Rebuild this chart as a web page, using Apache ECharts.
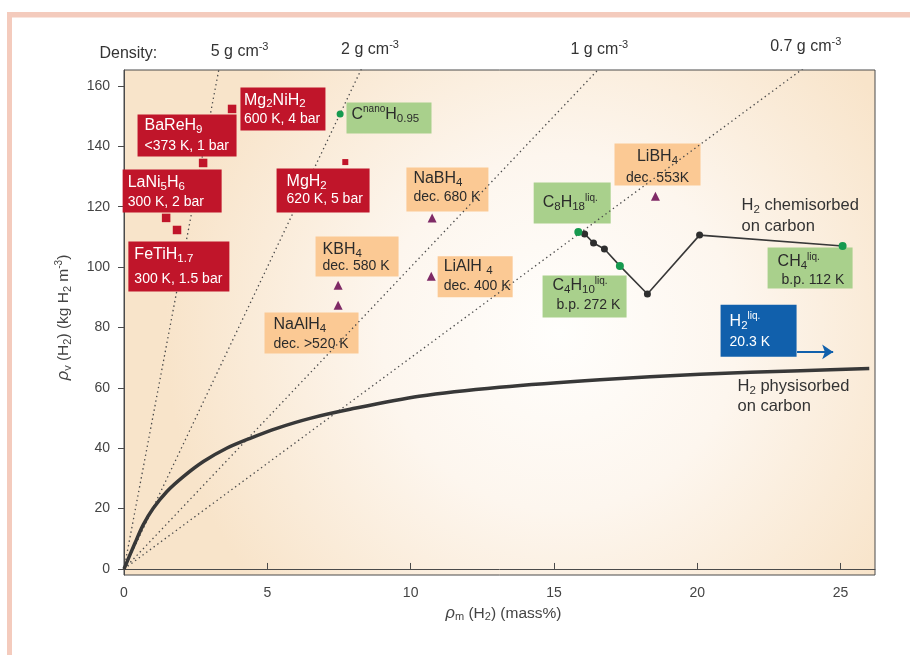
<!DOCTYPE html>
<html>
<head>
<meta charset="utf-8">
<script src="https://cdn.jsdelivr.net/npm/echarts@6/dist/echarts.min.js"></script>
<style>
  html, body { margin: 0; padding: 0; background: #ffffff; }
  #chart { width: 910px; height: 655px; }
</style>
</head>
<body>
<div id="chart"></div>
<script>
// ---- Values: x = gravimetric density (mass% H2), y = volumetric density (kg H2 m^-3) ----
const xTicks = [0, 5, 10, 15, 20, 25];
const yTicks = [0, 20, 40, 60, 80, 100, 120, 140, 160];

// Constant-density reference lines (g cm^-3); each runs from the origin past the top of the plot
const densityNames = ['5', '2', '1', '0.7'];
const densityEnds = [[3.4, 170], [8.5, 170], [17.0, 170], [24.3, 170]];

// H2 physisorbed on carbon
const physisorbed = [
  [0, 0], [0.38, 8.5], [0.67, 14.6], [1.02, 20.1], [1.49, 25.6], [2.07, 30.6],
  [2.77, 35.6], [3.58, 40.0], [4.40, 43.3], [5.33, 46.6], [6.49, 49.9], [7.89, 52.9],
  [10.3, 57.2], [13.1, 60.2], [16.6, 62.7], [20.1, 64.5], [23.6, 65.7], [26.0, 66.4]
];

// Metal hydrides (red squares)
const metalHydrideNames = ['BaReH9', 'Mg2NiH2', 'LaNi5H6', 'FeTiH1.7', 'MgH2'];
const metalHydrides = [[2.76, 134.5], [3.77, 152.4], [1.47, 116.3], [1.85, 112.3], [7.72, 134.8]];

// Complex hydrides (purple triangles)
const complexHydrideNames = ['NaBH4', 'KBH4', 'NaAlH4', 'LiAlH4', 'LiBH4'];
const complexHydrides = [[10.75, 116.3], [7.47, 94.0], [7.47, 87.4], [10.72, 97.0], [18.54, 123.5]];

// Carbon and liquid hydrocarbons (green dots)
const carbonNames = ['CnanoH0.95', 'C8H18 liq.', 'C4H10 liq.', 'CH4 liq.'];
const carbonPoints = [[7.54, 150.7], [15.85, 111.6], [17.3, 100.4], [25.07, 107.0]];

// H2 chemisorbed on carbon (black dots)
const chemisorbed = [[16.07, 111.0], [16.38, 108.0], [16.76, 106.0], [18.26, 91.1], [20.08, 110.6]];

// Liquid hydrogen lies off the scale: arrow pointing right
const liquidH2Arrow = [[23.48, 71.9], [24.74, 71.9]];

// ---- Styling ----
const FONT = '"Liberation Sans", Arial, Helvetica, sans-serif';
const RED = '#c0152a', ORANGE = '#fbc994', GREEN_BOX = '#a9d08c', BLUE = '#1160ac';
const INK = '#2b2b2b';
const boxFill = { red: RED, orange: ORANGE, green: GREEN_BOX, blue: BLUE };
const boxInk = { red: '#ffffff', orange: INK, green: INK, blue: '#ffffff', plain: '#333333', dens: '#333333' };

function richFor(kind, lh2) {
  const c = boxInk[kind];
  return {
    a: { fontSize: 16, lineHeight: 20, color: c, fontFamily: FONT },
    s: { fontSize: 11.5, lineHeight: 10, verticalAlign: 'bottom', color: c, fontFamily: FONT },
    p: { fontSize: 10, lineHeight: 10, verticalAlign: 'top', color: c, fontFamily: FONT },
    b: { fontSize: 14, lineHeight: lh2 || 20, color: c, fontFamily: FONT },
    c: { fontSize: 16.5, lineHeight: 20.5, color: c, fontFamily: FONT },
    d: { fontSize: 16, lineHeight: 20, color: c, fontFamily: FONT },
    q: { fontSize: 11, lineHeight: 10, verticalAlign: 'top', color: c, fontFamily: FONT }
  };
}

// Annotation boxes, anchored (top-left unless centred) in data coordinates
const notesUnder = [
  { kind: 'orange', at: [9.87, 132.8], w: 82, h: 44, pad: [1, 3, 0, 7], lh2: 18, text: '{a|NaBH}{s|4}\n{b|dec. 680 K}' },
  { kind: 'orange', at: [6.70, 110.0], w: 83, h: 40, pad: [3.2, 3, 0, 7], lh2: 12.5, text: '{a|KBH}{s|4}\n{b|dec. 580 K}' },
  { kind: 'orange', at: [10.96, 103.4], w: 75, h: 41, pad: [0.5, 3, 0, 6], lh2: 18.4, text: '{a|LiAlH }{s|4}\n{b|dec. 400 K}' },
  { kind: 'orange', at: [4.92, 84.8], w: 94, h: 41, pad: [2.3, 3, 0, 9], lh2: 18, text: '{a|NaAlH}{s|4}\n{b|dec. >520 K}' },
  { kind: 'orange', at: [18.63, 140.8], w: 86, h: 42, pad: [3.5, 4, 0, 4], lh2: 21.6, align: 'center', text: '{a|LiBH}{s|4}\n{b|dec. 553K}' },
  { kind: 'green', at: [7.78, 154.4], w: 85, h: 31, pad: [2, 3, 0, 5], text: '{a|C}{p|nano}{a|H}{s|0.95}' },
  { kind: 'green', at: [14.31, 127.9], w: 77, h: 41, pad: [10.5, 3, 0, 9], text: '{a|C}{s|8}{a|H}{s|18}{p|liq.}' },
  { kind: 'green', at: [14.62, 97.06], w: 84, h: 42, pad: [0.3, 3, 0, 10], lh2: 18, text: '{a|C}{s|4}{a|H}{s|10}{p|liq.}\n{b| b.p. 272 K}' },
  { kind: 'green', at: [22.47, 106.3], w: 85, h: 41, pad: [4.5, 3, 0, 10], lh2: 17, text: '{a|CH}{s|4}{p|liq.}\n{b| b.p. 112 K}' }
];

const notesOver = [
  { kind: 'red', at: [0.49, 150.4], w: 99, h: 42, pad: [1, 4, 0, 7], lh2: 21.4, text: '{a|BaReH}{s|9}\n{b|<373 K, 1 bar}' },
  { kind: 'red', at: [4.08, 159.3], w: 85, h: 43, pad: [2.7, 3, 0, 3.5], lh2: 18, text: '{a|Mg}{s|2}{a|NiH}{s|2}\n{b|600 K, 4 bar}' },
  { kind: 'red', at: [-0.03, 132.2], w: 99, h: 43, pad: [3.3, 4, 0, 5], lh2: 19.4, text: '{a|LaNi}{s|5}{a|H}{s|6}\n{b|300 K, 2 bar}' },
  { kind: 'red', at: [0.17, 108.3], w: 101, h: 50, pad: [3, 4, 0, 6], lh2: 30, text: '{a|FeTiH}{s|1.7}\n{b|300 K, 1.5 bar}' },
  { kind: 'red', at: [5.34, 132.5], w: 93, h: 44, pad: [3.5, 4, 0, 10], lh2: 14, text: '{a|MgH}{s|2}\n{b|620 K, 5 bar}' },
  { kind: 'blue', at: [20.83, 87.4], w: 76, h: 52, pad: [6.7, 3, 0, 9], lh2: 21.6, text: '{a|H}{s|2}{p|liq.}\n{b|20.3 K}' },
  { kind: 'plain', at: [21.56, 123.6], text: '{c|H}{s|2}{c| chemisorbed}\n{c|on carbon}' },
  { kind: 'plain', at: [21.42, 63.7], text: '{c|H}{s|2}{c| physisorbed}\n{c|on carbon}' }
];

// Density captions above the plot
const densityCaptionAt = [[4.05, 174.6], [8.6, 175.3], [16.6, 175.3], [23.8, 176.3]];
const densityTitleAt = [-0.84, 174.0];
const densityNotes = [{ kind: 'dens', at: densityTitleAt, text: '{d|Density:}' }].concat(
  densityNames.map((d, i) => ({ kind: 'dens', at: densityCaptionAt[i], align: 'center', text: '{d|' + d + ' g cm}{q|-3}' }))
);

function noteItem(n) {
  const pad = n.pad || [0, 0, 0, 0];
  const label = {
    show: true,
    position: [0, 0],
    align: n.align || 'left',
    verticalAlign: 'top',
    formatter: n.text,
    fontFamily: FONT,
    color: boxInk[n.kind],
    padding: pad,
    rich: richFor(n.kind, n.lh2)
  };
  if (boxFill[n.kind]) label.backgroundColor = boxFill[n.kind];
  if (n.w) label.width = n.w - pad[1] - pad[3];
  if (n.h) label.height = n.h - pad[0] - pad[2];
  return { value: n.at, label: label };
}

function noteSeries(list, z) {
  return {
    type: 'scatter', z: z, silent: true, clip: false,
    symbolSize: 1, itemStyle: { color: 'rgba(0,0,0,0)', opacity: 1 },
    data: list.map(noteItem)
  };
}

const axisRich = {
  i: { fontSize: 16.5, fontStyle: 'italic', lineHeight: 19, color: '#444', fontFamily: FONT },
  n: { fontSize: 15.5, lineHeight: 19, color: '#444', fontFamily: FONT },
  s: { fontSize: 11, lineHeight: 10, verticalAlign: 'bottom', color: '#444', fontFamily: FONT },
  p: { fontSize: 10, lineHeight: 9, verticalAlign: 'top', color: '#444', fontFamily: FONT }
};

const chemPath = carbonPoints.slice(1).concat(chemisorbed).sort((a, b) => a[0] - b[0]);

const chart = echarts.init(document.getElementById('chart'));

const densitySeries = densityEnds.map((end, i) => ({
  name: densityNames[i] + ' g cm-3',
  type: 'line', z: 2, silent: true, clip: true,
  symbol: 'none',
  data: [[0, 0], end],
  lineStyle: { color: '#4a4a4a', width: 1.3, type: [1.4, 3.2] }
}));

chart.setOption({
  animation: false,
  backgroundColor: '#ffffff',
  textStyle: { fontFamily: FONT },
  graphic: [
    { type: 'rect', silent: true, z: -10, shape: { x: 7, y: 12, width: 903, height: 5.5 }, style: { fill: '#f4cbbd' } },
    { type: 'rect', silent: true, z: -10, shape: { x: 7, y: 12, width: 5, height: 643 }, style: { fill: '#f4cbbd' } }
  ],
  grid: {
    left: 124, right: 35, top: 70, bottom: 80,
    show: true, borderColor: '#4a4a4a', borderWidth: 1,
    backgroundColor: {
      type: 'radial', x: 0.58, y: 0.52, r: 0.78,
      colorStops: [
        { offset: 0, color: '#fffefc' },
        { offset: 0.45, color: '#fdf6ee' },
        { offset: 1, color: '#f8e4ca' }
      ]
    }
  },
  xAxis: {
    type: 'value', min: 0, max: 26.2,
    name: '{i|ρ}{s|m}{n| (H}{s|2}{n|) (mass%)}',
    nameLocation: 'middle', nameGap: 28,
    nameTextStyle: { color: '#444', fontFamily: FONT, rich: axisRich, padding: [0, 0, 0, 8] },
    axisLine: { show: true, lineStyle: { color: '#4a4a4a' } },
    axisTick: { show: true, inside: true, length: 6, customValues: xTicks, lineStyle: { color: '#4a4a4a' } },
    axisLabel: { customValues: xTicks, color: '#444', fontSize: 14, margin: 11, fontFamily: FONT },
    splitLine: { show: false }
  },
  yAxis: {
    type: 'value', min: -2, max: 165.3,
    name: '{i|ρ}{s|v}{n| (H}{s|2}{n|) (kg H}{s|2}{n| m}{p|-3}{n|)}',
    nameLocation: 'middle', nameRotate: 90, nameGap: 51,
    nameTextStyle: { color: '#444', fontFamily: FONT, rich: axisRich, padding: [0, 0, 0, 10] },
    axisLine: { show: true, lineStyle: { color: '#4a4a4a' } },
    axisTick: { show: true, inside: false, length: 6, customValues: yTicks, lineStyle: { color: '#4a4a4a' } },
    axisLabel: { customValues: yTicks, color: '#444', fontSize: 14, margin: 14, fontFamily: FONT },
    splitLine: { show: false }
  },
  series: [
    noteSeries(notesUnder, 1),
    ...densitySeries,
    noteSeries(notesOver, 3),
    noteSeries(densityNotes, 3),
    {
      name: 'H2 physisorbed on carbon', type: 'line', z: 4, silent: true,
      symbol: 'none', smooth: 0.3,
      data: physisorbed,
      lineStyle: { color: '#383838', width: 3.5 }
    },
    {
      name: 'H2 chemisorbed on carbon', type: 'line', z: 4, silent: true,
      symbol: 'none', data: chemPath,
      lineStyle: { color: '#383838', width: 1.6 }
    },
    {
      name: 'chemisorbed points', type: 'scatter', z: 5, silent: true,
      symbol: 'circle', symbolSize: 7,
      itemStyle: { color: '#2e2e2e', opacity: 1 },
      data: chemisorbed
    },
    {
      name: 'carbon', type: 'scatter', z: 5, silent: true,
      symbol: 'circle',
      symbolSize: (v, p) => (p.dataIndex === 0 ? 7 : 8),
      itemStyle: { color: '#169a4f', opacity: 1 },
      data: carbonPoints.map((v, i) => ({ name: carbonNames[i], value: v }))
    },
    {
      name: 'metal hydrides', type: 'scatter', z: 5, silent: true,
      symbol: 'rect',
      symbolSize: (v, p) => (p.name === 'MgH2' ? 6 : 8.5),
      itemStyle: { color: RED, opacity: 1 },
      data: metalHydrides.map((v, i) => ({ name: metalHydrideNames[i], value: v }))
    },
    {
      name: 'complex hydrides', type: 'scatter', z: 5, silent: true,
      symbol: 'triangle', symbolSize: 9,
      itemStyle: { color: '#7f2a66', opacity: 1 },
      data: complexHydrides.map((v, i) => ({ name: complexHydrideNames[i], value: v }))
    },
    {
      name: 'H2 liquid', type: 'lines', coordinateSystem: 'cartesian2d', z: 5, silent: true,
      symbol: ['none', 'arrow'], symbolSize: 11,
      lineStyle: { color: BLUE, width: 2, opacity: 1 },
      data: [{ coords: liquidH2Arrow }]
    }
  ]
});
</script>
</body>
</html>
